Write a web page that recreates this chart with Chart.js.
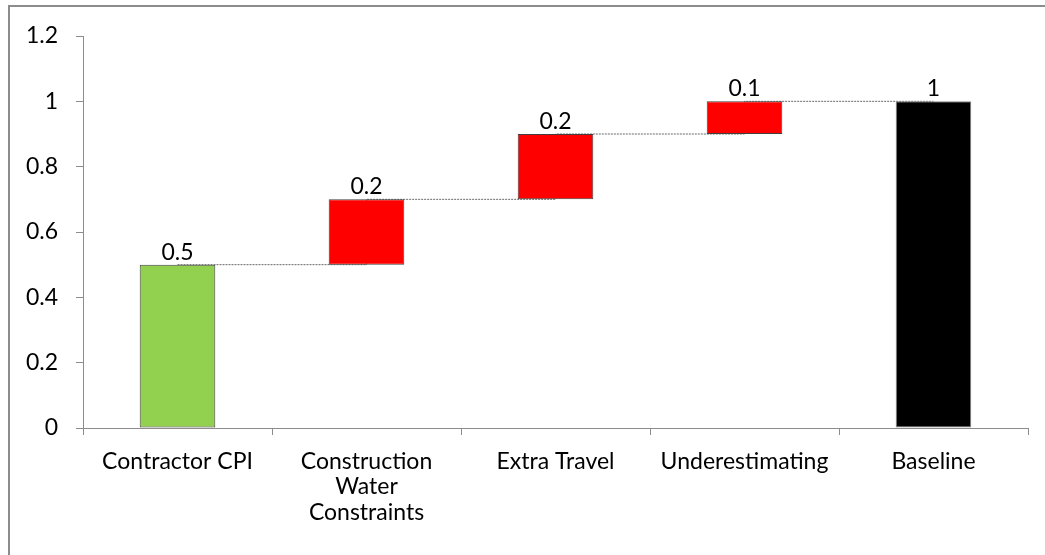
<!DOCTYPE html>
<html>
<head>
<meta charset="utf-8">
<script src="https://cdn.jsdelivr.net/npm/chart.js@4"></script>
<style>
  html, body { margin: 0; padding: 0; background: #fff; }
  #wrap { position: relative; width: 1045px; height: 555px; overflow: hidden; }
  #frame { position: absolute; left: 8px; top: 5px; right: -10px; bottom: -10px;
           border-top: 2px solid #8c8c8c; border-left: 2px solid #8c8c8c; }
  canvas { position: absolute; left: 0; top: 0; }
</style>
</head>
<body>
<div id="wrap">
  <div id="frame"></div>
  <canvas id="waterfall" width="1045" height="555"></canvas>
</div>
<script>
// waterfall data
const categories = ['Contractor CPI', ['Construction', 'Water', 'Constraints'], 'Extra Travel', 'Underestimating', 'Baseline'];
const stepValues = [0.5, 0.2, 0.2, 0.1, 1];
const barColors = ['#92D050', '#FF0000', '#FF0000', '#FF0000', '#000000'];
const borderColors = ['#404040', '#404040', '#404040', '#404040', '#8a8a8a'];
const yTicks = [0, 0.2, 0.4, 0.6, 0.8, 1, 1.2];

// floating ranges: steps stack up, last bar is the total from zero
const ranges = [];
const tops = [];
let running = 0;
stepValues.forEach((v, i) => {
    if (i === stepValues.length - 1) {
        ranges.push([0, v]);
        tops.push(v);
    } else {
        ranges.push([running, running + v]);
        running += v;
        tops.push(running);
    }
});

const fontFamily = 'Lato, "Open Sans", sans-serif';
const fontSize = 23;

const labelPlugin = {
    id: 'barLabels',
    afterDatasetsDraw(chart) {
        const meta = chart.getDatasetMeta(1);
        const ctx = chart.ctx;
        ctx.save();
        ctx.font = fontSize + 'px ' + fontFamily;
        ctx.fillStyle = '#000';
        ctx.textAlign = 'center';
        ctx.textBaseline = 'alphabetic';
        meta.data.forEach((bar, i) => {
            ctx.fillText(String(stepValues[i]), bar.x, bar.y - 5);
        });
        ctx.restore();
    }
};

new Chart(document.getElementById('waterfall'), {
    data: {
        labels: categories,
        datasets: [{
            type: 'line',
            data: tops,
            stepped: 'before',
            borderColor: '#6a6a6a',
            borderWidth: 1,
            borderDash: [2, 1],
            pointRadius: 0,
            fill: false,
            order: 2
        }, {
            type: 'bar',
            data: ranges,
            backgroundColor: barColors,
            borderColor: borderColors,
            borderWidth: 1,
            borderSkipped: false,
            categoryPercentage: 1,
            barPercentage: 0.4,
            order: 1
        }]
    },
    options: {
        responsive: false,
        animation: false,
        layout: { padding: { top: 36, right: 17, left: 0, bottom: 0 } },
        plugins: {
            legend: { display: false },
            tooltip: { enabled: false }
        },
        scales: {
            x: {
                offset: true,
                grid: { offset: true, drawOnChartArea: false, drawTicks: true, tickLength: 7, color: '#8c8c8c' },
                border: { color: '#8c8c8c', width: 1 },
                ticks: { color: '#000', font: { family: fontFamily, size: fontSize, lineHeight: 1.1 }, padding: 14, maxRotation: 0, autoSkip: false },
                afterFit(scale) { scale.height = 127; }
            },
            y: {
                min: 0,
                max: 1.2,
                afterBuildTicks(scale) { scale.ticks = yTicks.map(v => ({ value: v })); },
                grid: { drawOnChartArea: false, drawTicks: true, tickLength: 7, color: '#8c8c8c' },
                border: { color: '#8c8c8c', width: 1 },
                ticks: {
                    color: '#000',
                    font: { family: fontFamily, size: fontSize },
                    padding: 18,
                    callback: v => String(Math.round(v * 10) / 10)
                },
                afterFit(scale) { scale.width = 83; }
            }
        }
    },
    plugins: [labelPlugin]
});
</script>
</body>
</html>
